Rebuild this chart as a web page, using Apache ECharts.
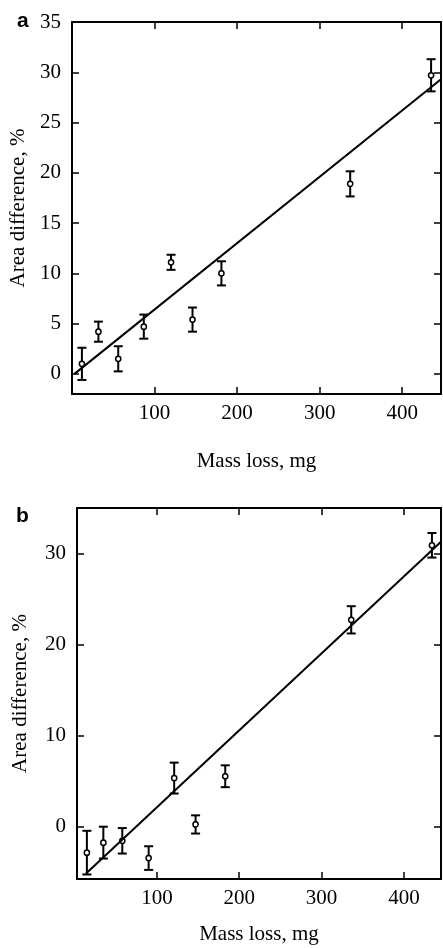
<!DOCTYPE html>
<html>
<head>
<meta charset="utf-8">
<script src="https://cdn.jsdelivr.net/npm/echarts@6/dist/echarts.min.js"></script>
<style>
html, body { margin: 0; padding: 0; background: #fff; }
#chart { width: 443px; height: 948px; }
</style>
</head>
<body>
<div id="chart"></div>
<script>
// panel a
var massA = [12, 32, 56, 87, 120, 146, 181, 337, 435];
var diffA = [1.0, 4.2, 1.5, 4.7, 11.1, 5.4, 10.0, 18.9, 29.7];
var errA = [1.6, 1.0, 1.25, 1.2, 0.75, 1.2, 1.2, 1.25, 1.6];
var fitA = [[3, 0], [447, 29.3]];
// panel b
var massB = [15, 35, 58, 90, 121, 147, 183, 336, 434];
var diffB = [-2.9, -1.8, -1.6, -3.5, 5.3, 0.2, 5.5, 22.7, 30.9];
var errB = [2.4, 1.75, 1.4, 1.3, 1.7, 1.0, 1.2, 1.5, 1.35];
var fitB = [[14, -5.2], [445, 31.3]];
// ticks
var xTicks = [100, 200, 300, 400];
var yTicksA = [0, 5, 10, 15, 20, 25, 30, 35];
var yTicksB = [0, 10, 20, 30];

var serif = 'Liberation Serif';

function buildPoints(xs, ys, es) {
    var out = [];
    for (var i = 0; i < xs.length; i++) {
        out.push([xs[i], ys[i], es[i]]);
    }
    return out;
}

// error bar with caps and an open circle
function renderErr(params, api) {
    var x = api.value(0), y = api.value(1), e = api.value(2);
    var c = api.coord([x, y]);
    var hi = api.coord([x, y + e]);
    var lo = api.coord([x, y - e]);
    var cap = 4.5;
    var st = { stroke: '#000', lineWidth: 2 };
    return {
        type: 'group',
        children: [
            { type: 'line', shape: { x1: c[0], y1: hi[1], x2: c[0], y2: lo[1] }, style: st },
            { type: 'line', shape: { x1: c[0] - cap, y1: hi[1], x2: c[0] + cap, y2: hi[1] }, style: st },
            { type: 'line', shape: { x1: c[0] - cap, y1: lo[1], x2: c[0] + cap, y2: lo[1] }, style: st },
            { type: 'circle', shape: { cx: c[0], cy: c[1], r: 2.6 }, style: { fill: '#fff', stroke: '#000', lineWidth: 1.5 } }
        ]
    };
}

function xAxisOf(grid, pos, min, max, showName, gap) {
    return {
        type: 'value', gridIndex: grid, position: pos, min: min, max: max,
        name: showName ? 'Mass loss, mg' : '', nameLocation: 'middle', nameGap: gap,
        nameTextStyle: { fontFamily: serif, fontSize: 21, color: '#000' },
        axisLine: { show: true, onZero: false, lineStyle: { color: '#000', width: 2 } },
        axisTick: { show: true, inside: true, length: 7, customValues: xTicks, lineStyle: { color: '#000', width: 1.5 } },
        axisLabel: { show: showName, customValues: xTicks, margin: 9, fontFamily: serif, fontSize: 21, color: '#000' },
        splitLine: { show: false }
    };
}

function yAxisOf(grid, pos, min, max, ticks, showName, gap) {
    return {
        type: 'value', gridIndex: grid, position: pos, min: min, max: max,
        name: showName ? 'Area difference, %' : '', nameLocation: 'middle', nameGap: gap,
        nameTextStyle: { fontFamily: serif, fontSize: 21, color: '#000' },
        axisLine: { show: true, onZero: false, lineStyle: { color: '#000', width: 2 } },
        axisTick: { show: true, inside: true, length: 7, customValues: ticks, lineStyle: { color: '#000', width: 1.5 } },
        axisLabel: { show: showName, customValues: ticks, margin: 11, fontFamily: serif, fontSize: 21, color: '#000' },
        splitLine: { show: false }
    };
}

var myChart = echarts.init(document.getElementById('chart'), null, { renderer: 'canvas' });
myChart.setOption({
    animation: false,
    backgroundColor: '#fff',
    title: [
        { text: 'a', left: 12, top: 6, textStyle: { fontFamily: 'Liberation Sans', fontWeight: 'bold', fontSize: 21, color: '#000' } },
        { text: 'b', left: 11, top: 501, textStyle: { fontFamily: 'Liberation Sans', fontWeight: 'bold', fontSize: 21, color: '#000' } }
    ],
    grid: [
        { left: 72, top: 22, width: 369, height: 372 },
        { left: 77, top: 508, width: 364, height: 371 }
    ],
    xAxis: [
        xAxisOf(0, 'bottom', 0, 447, true, 57),
        xAxisOf(0, 'top', 0, 447, false, 0),
        xAxisOf(1, 'bottom', 3, 445, true, 45),
        xAxisOf(1, 'top', 3, 445, false, 0)
    ],
    yAxis: [
        yAxisOf(0, 'left', -2, 35, yTicksA, true, 41),
        yAxisOf(0, 'right', -2, 35, yTicksA, false, 0),
        yAxisOf(1, 'left', -5.8, 35, yTicksB, true, 46),
        yAxisOf(1, 'right', -5.8, 35, yTicksB, false, 0)
    ],
    series: [
        {
            type: 'line', xAxisIndex: 0, yAxisIndex: 0, data: fitA, symbol: 'none',
            lineStyle: { color: '#000', width: 2 }, silent: true
        },
        {
            type: 'custom', xAxisIndex: 0, yAxisIndex: 0, renderItem: renderErr,
            data: buildPoints(massA, diffA, errA), z: 3
        },
        {
            type: 'line', xAxisIndex: 2, yAxisIndex: 2, data: fitB, symbol: 'none',
            lineStyle: { color: '#000', width: 2 }, silent: true
        },
        {
            type: 'custom', xAxisIndex: 2, yAxisIndex: 2, renderItem: renderErr,
            data: buildPoints(massB, diffB, errB), z: 3
        }
    ]
});
</script>
</body>
</html>
